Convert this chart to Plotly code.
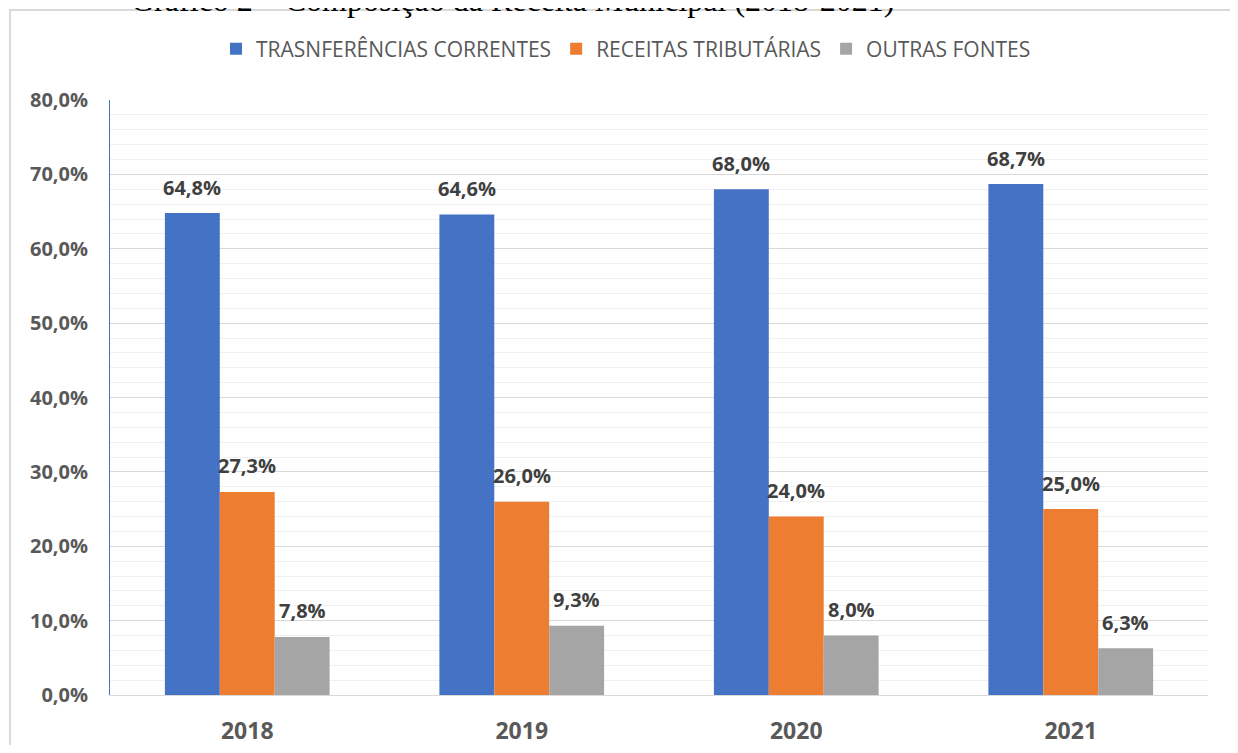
import plotly.graph_objects as go

years = ['2018', '2019', '2020', '2021']
series = ['TRASNFERÊNCIAS CORRENTES', 'RECEITAS TRIBUTÁRIAS', 'OUTRAS FONTES']
transferencias = [0.648, 0.646, 0.680, 0.687]
tributarias = [0.273, 0.260, 0.240, 0.250]
outras = [0.078, 0.093, 0.080, 0.063]
colors = ['#4472C4', '#ED7D31', '#A5A5A5']
title = 'Gráfico 2 – Composição da Receita Municipal (2018-2021)'

# a página tem margem de 8px no body
OFF = 8
W, H = 1222, 737
ml, mr, mt, mb = 102, 22, 92, 50
plot_w = W - ml - mr
plot_h = H - mt - mb
bargap = 0.4


def px_x(p):
    """posição x da página -> coordenada paper"""
    return (p - OFF - ml) / plot_w


def px_y(p):
    """posição y da página -> coordenada paper"""
    return (H - mb - (p - OFF)) / plot_h


fig = go.Figure()
for name, vals, col in zip(series, [transferencias, tributarias, outras], colors):
    fig.add_trace(go.Bar(x=years, y=vals, name=name, marker_color=col,
                         marker_line_width=0))

# rótulos de dados acima das barras (deslocados como no Excel)
bar_px = plot_w / len(years) * (1 - bargap) / len(series)
for i, vals in enumerate([transferencias, tributarias, outras]):
    for j, v in enumerate(vals):
        # índice da categoria (o texto '2018' seria lido como número)
        fig.add_annotation(x=j, y=v, xref='x', yref='y',
                           text=f'{v*100:.1f}%'.replace('.', ','),
                           showarrow=False, yanchor='middle', yshift=26,
                           xshift=(i - 1) * bar_px,
                           font=dict(family='Open Sans', size=20, color='#404040', weight='bold'))

# moldura do gráfico
fig.add_shape(type='rect', xref='paper', yref='paper',
              x0=px_x(10), x1=px_x(1234), y0=px_y(790), y1=px_y(10),
              line=dict(color='#D9D9D9', width=2), fillcolor='rgba(0,0,0,0)', layer='below')

fig.add_annotation(text=title, xref='paper', yref='paper', x=px_x(512), y=px_y(20),
                   xanchor='center', yanchor='bottom', showarrow=False,
                   font=dict(family='Liberation Serif', size=32, color='#000000'))

fig.update_layout(
    width=W, height=H,
    margin=dict(l=ml, r=mr, t=mt, b=mb),
    paper_bgcolor='white', plot_bgcolor='white',
    separators=',.',
    barmode='group', bargap=bargap, bargroupgap=0,
    showlegend=True,
    legend=dict(orientation='h', x=px_x(626), y=px_y(49), xanchor='center', yanchor='middle',
                font=dict(family='Open Sans', size=21, color='#595959'),
                itemwidth=30, traceorder='normal'),
    xaxis=dict(type='category', showgrid=False, showline=True, linecolor='#D9D9D9', linewidth=1,
               ticks='', ticklabelstandoff=15, automargin=False,
               tickfont=dict(family='Open Sans', size=23, color='#595959', weight='bold')),
    yaxis=dict(range=[0, 0.8], dtick=0.1, tickformat='.1%',
               showgrid=True, gridcolor='#D9D9D9', gridwidth=1,
               minor=dict(dtick=0.02, showgrid=True, gridcolor='#F0F0F0', gridwidth=1),
               showline=True, linecolor='#4472C4', linewidth=1, automargin=False,
               zeroline=False, ticks='', ticklabelstandoff=17,
               tickfont=dict(family='Open Sans', size=20, color='#595959', weight='bold')),
)

fig.write_html('out.html')
